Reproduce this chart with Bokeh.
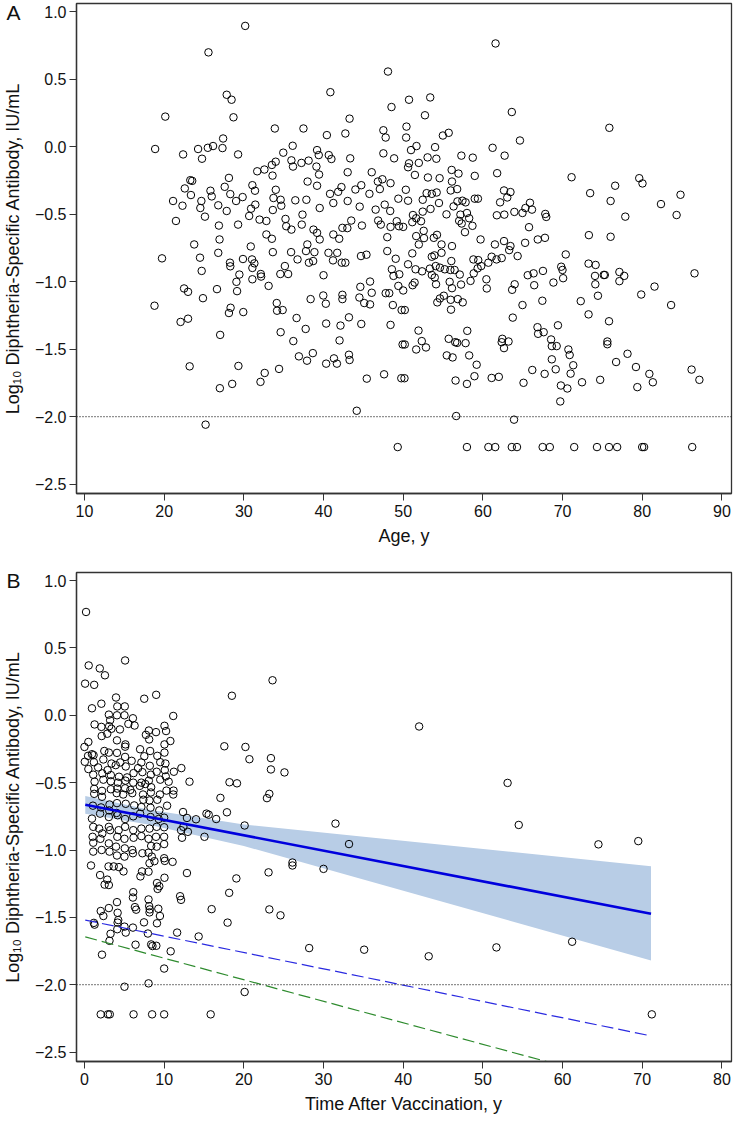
from bokeh.plotting import figure
from bokeh.models import Range1d, FixedTicker, Span, ColumnDataSource, LinearAxis
from bokeh.layouts import column
from bokeh.embed import file_html
from bokeh.resources import INLINE

# ---------------- Panel A: age vs log10 titer ----------------
age_A = [30.17,25.56,48.09,40.86,48.53,27.85,28.46,20.14,28.7,43.27,33.89,37.48,47.51,47.8,40.42,42.74,27.4,18.87,24.26,25.48,
 26.14,27.32,22.38,24.75,29.28,36.13,34.95,39.19,39.4,40.66,40.99,43.35,47.51,48.86,35.97,37.23,36.17,38.13,39.11,31.68,
 32.58,33.52,34.0,33.6,39.44,43.03,46.05,47.39,48.41,46.82,28.13,23.28,23.52,22.59,23.36,21.12,22.3,21.48,24.67,24.54,
 25.12,25.81,25.97,26.79,27.85,27.6,28.3,29.03,29.28,26.87,26.95,23.77,29.85,30.67,30.91,31.07,31.4,31.44,30.87,31.97,
 32.83,32.83,33.52,33.64,34.01,33.72,34.62,34.7,35.23,35.32,35.97,36.46,37.36,37.27,37.85,38.0,39.19,39.52,38.74,39.19,
 39.52,37.97,40.82,41.23,41.84,42.25,43.03,44.0,44.74,44.54,43.48,44.82,42.37,42.99,41.23,41.97,45.76,46.54,47.07,47.68,
 48.37,46.86,47.19,48.41,49.19,49.47,48.0,49.39,
 61.59,50.73,53.39,52.73,63.63,50.41,50.37,75.87,54.98,55.71,64.65,51.67,50.98,54.0,61.22,57.3,58.73,62.73,53.06,54.16,
 50.73,51.96,50.61,51.47,53.1,54.57,56.08,56.94,56.12,55.96,56.77,58.98,61.79,71.13,79.62,80.03,76.6,73.46,76.03,84.8,
 82.35,84.31,77.87,73.3,76.03,50.33,50.61,52.45,52.94,53.59,54.2,54.49,53.43,52.45,51.22,51.63,52.24,51.14,50.0,52.57,
 51.63,52.61,51.96,53.84,54.24,54.81,55.43,56.32,56.81,57.43,57.83,58.0,57.18,57.02,57.34,58.28,58.69,57.75,58.98,59.38,
 62.16,62.65,63.06,63.46,61.75,62.69,63.95,64.97,65.34,65.91,66.16,65.79,67.83,67.95,59.71,61.51,62.65,63.46,65.3,66.89,
 67.79,56.12,
 19.73,24.5,24.71,26.79,18.79,22.5,23.0,24.87,26.63,22.06,23.0,27.03,23.2,29.32,26.99,28.54,32.09,32.62,34.42,25.2,
 28.26,28.3,29.07,29.15,29.44,29.89,29.93,28.34,28.13,31.03,31.32,31.07,31.07,32.13,32.17,33.11,33.64,34.13,34.17,34.87,
 34.62,34.58,35.56,35.15,35.93,36.74,36.62,36.21,37.76,36.91,37.93,38.66,37.8,38.86,38.17,38.7,38.38,40.0,39.97,40.29,
 40.33,40.62,41.19,41.72,42.29,42.74,42.37,42.37,43.19,42.13,42.01,43.19,43.27,41.31,40.33,41.68,44.7,45.39,44.62,44.5,
 45.84,46.05,45.11,45.84,44.74,44.17,45.43,47.6,48.0,49.06,48.58,48.78,49.51,49.39,47.8,48.25,48.7,49.8,48.41,49.92,
 49.76,49.31,
 51.14,50.61,51.55,52.37,53.35,53.59,53.92,54.81,54.08,54.61,55.22,55.92,56.45,56.04,57.1,53.59,53.96,54.12,51.43,51.18,
 50.0,50.2,55.83,56.12,57.26,55.1,54.61,54.28,55.96,56.85,57.47,56.0,58.45,58.85,59.34,58.81,59.42,59.79,60.69,61.1,
 61.71,62.36,60.44,60.49,64.36,63.3,70.4,63.99,63.67,65.63,66.36,66.44,67.54,68.85,69.83,69.99,70.07,64.97,63.75,67.46,
 73.26,74.15,74.07,75.17,75.3,74.11,74.44,77.13,77.74,77.13,79.87,81.54,86.56,83.62,72.28,73.26,75.83,51.92,52.33,51.63,
 52.86,50.2,55.71,56.53,56.77,57.83,58.04,55.47,56.2,58.28,59.22,56.57,58.0,58.94,50.16,62.44,62.36,63.22,62.65,61.1,
 62.0,66.85,66.93,67.63,69.42,68.56,68.65,69.26,70.73,70.89,71.34,68.65,69.14,71.01,67.75,66.2,65.1,69.79,70.6,69.71,
 72.44,74.72,75.62,75.62,76.72,78.15,79.21,79.38,80.89,81.33,86.19,87.17,56.65,63.91,
 58.0,60.69,61.55,63.63,64.28,67.5,68.4,71.46,74.32,75.83,76.85,79.99,80.23,86.27]
titer_A = [0.894,0.698,0.556,0.403,0.293,0.384,0.347,0.222,0.217,0.207,0.134,0.134,0.121,0.067,0.085,0.097,0.06,-0.018,-0.018,-0.009,
 0.004,-0.011,-0.058,-0.09,-0.058,0.006,-0.045,-0.026,-0.063,-0.063,-0.092,-0.087,-0.05,-0.087,-0.102,-0.121,-0.148,-0.104,-0.148,-0.183,
 -0.17,-0.136,-0.112,-0.215,-0.207,-0.19,-0.19,-0.242,-0.271,-0.259,-0.232,-0.249,-0.254,-0.31,-0.359,-0.403,-0.438,-0.551,-0.403,-0.455,
 -0.519,-0.327,-0.369,-0.435,-0.477,-0.298,-0.352,-0.403,-0.578,-0.585,-0.688,-0.725,-0.374,-0.514,-0.46,-0.286,-0.327,-0.43,-0.74,-0.541,
 -0.551,-0.651,-0.683,-0.47,-0.32,-0.381,-0.394,-0.438,-0.536,-0.59,-0.615,-0.398,-0.504,-0.578,-0.394,-0.259,-0.29,-0.455,-0.615,-0.639,
 -0.688,-0.725,-0.35,-0.418,-0.335,-0.3,-0.403,-0.318,-0.286,-0.445,-0.548,-0.585,-0.602,-0.604,-0.651,-0.683,-0.35,-0.467,-0.315,-0.43,
 -0.477,-0.548,-0.578,-0.595,-0.553,-0.59,-0.671,-0.386,
 0.764,0.347,0.364,0.232,0.256,0.148,0.067,0.139,0.082,0.102,0.045,0.004,-0.026,-0.004,-0.009,-0.067,-0.082,-0.067,-0.08,-0.09,
 -0.124,-0.121,-0.153,-0.21,-0.229,-0.234,-0.173,-0.2,-0.259,-0.325,-0.315,-0.217,-0.197,-0.227,-0.234,-0.273,-0.29,-0.345,-0.403,-0.357,
 -0.426,-0.507,-0.519,-0.656,-0.668,-0.32,-0.401,-0.394,-0.345,-0.35,-0.34,-0.418,-0.462,-0.482,-0.507,-0.531,-0.553,-0.56,-0.595,-0.624,
 -0.663,-0.678,-0.725,-0.676,-0.654,-0.725,-0.502,-0.443,-0.406,-0.401,-0.413,-0.492,-0.504,-0.55,-0.57,-0.531,-0.587,-0.634,-0.386,-0.386,
 -0.413,-0.325,-0.377,-0.337,-0.509,-0.504,-0.484,-0.492,-0.455,-0.416,-0.467,-0.597,-0.499,-0.521,-0.688,-0.725,-0.7,-0.737,-0.713,-0.688,
 -0.676,-0.737,
 -0.828,-0.823,-0.921,-0.787,-1.179,-1.051,-1.076,-1.123,-1.056,-1.299,-1.275,-1.395,-1.628,-1.625,-1.79,-1.758,-1.743,-1.677,-1.647,-2.06,
 -0.86,-0.887,-1.002,-1.071,-0.948,-0.833,-1.226,-1.194,-1.233,-0.836,-0.865,-0.899,-0.983,-0.944,-0.963,-1.032,-0.782,-1.159,-1.216,-1.211,
 -1.375,-0.944,-0.944,-0.885,-0.782,-0.836,-1.27,-1.441,-1.351,-1.554,-1.586,-1.53,-0.774,-0.782,-0.86,-0.848,-1.13,-0.953,-1.103,-1.164,
 -1.311,-0.787,-0.843,-0.787,-0.86,-0.86,-1.098,-1.13,-1.265,-1.326,-1.436,-1.542,-1.581,-1.569,-1.608,-1.608,-0.811,-0.801,-1.039,-1.118,
 -1.0,-1.083,-1.159,-1.169,-1.314,-1.957,-1.719,-1.687,-0.774,-0.831,-0.909,-0.958,-0.946,-1.032,-1.086,-1.086,-1.174,-1.211,-1.321,-1.466,
 -1.716,-2.226,
 -0.791,-0.872,-0.909,-0.924,-0.904,-0.816,-0.806,-0.787,-0.885,-0.897,-0.909,-0.914,-0.914,-0.848,-0.948,-0.951,-0.97,-1.02,-1.007,-1.027,
 -1.066,-1.211,-1.002,-1.049,-1.022,-1.105,-1.125,-1.154,-1.135,-1.13,-1.154,-1.208,-0.995,-0.939,-0.902,-0.836,-0.841,-0.885,-0.86,-0.816,
 -0.836,-0.826,-0.983,-1.051,-0.811,-0.767,-0.799,-1.02,-1.061,-0.953,-0.939,-1.027,-0.921,-1.007,-0.89,-0.914,-0.975,-1.174,-1.267,-1.142,
 -0.867,-0.877,-0.958,-0.951,-0.951,-1.02,-1.105,-0.929,-0.958,-0.997,-1.096,-1.037,-0.939,-1.174,-1.145,-1.243,-1.294,-1.363,-1.441,-1.503,
 -1.488,-1.466,-1.424,-1.449,-1.454,-1.456,-1.365,-1.547,-1.562,-1.547,-1.616,-1.733,-1.758,-1.701,-1.716,-1.424,-1.449,-1.444,-1.493,-1.714,
 -1.706,-1.338,-1.387,-1.375,-1.324,-1.429,-1.478,-1.478,-1.503,-1.544,-1.62,-1.576,-1.65,-1.682,-1.684,-1.655,-1.75,-1.77,-1.792,-1.888,
 -1.746,-1.728,-1.444,-1.464,-1.596,-1.535,-1.633,-1.782,-1.684,-1.746,-1.652,-1.728,-1.996,-2.023,
 -2.226,-2.226,-2.226,-2.226,-2.226,-2.226,-2.226,-2.226,-2.226,-2.226,-2.226,-2.226,-2.226,-2.226]

# ---------------- Panel B: time after vaccination ----------------
years_B = [0.2,0.53,5.1,1.92,2.57,0.08,1.22,18.5,3.96,7.5,9.0,0.94,2.12,4.12,5.06,11.14,3.06,4.08,5.02,6.08,
 3.22,1.27,2.12,3.1,5.51,6.29,10.04,3.39,4.45,10.24,8.08,8.98,2.86,2.16,7.71,0.49,4.08,5.14,10.78,8.12,
 10.04,17.55,5.1,0.0,2.49,0.94,3.06,4.08,6.98,8.24,10.04,0.45,1.14,5.1,7.51,9.14,0.04,1.18,2.37,3.39,
 4.49,5.92,7.14,8.2,9.51,10.16,0.49,1.71,2.9,3.92,5.18,6.73,9.06,10.08,11.22,12.16,1.1,2.24,3.31,4.33,
 5.35,6.16,7.27,8.33,1.27,2.37,3.31,4.2,5.14,6.12,7.14,8.08,9.51,10.2,10.57,13.18,18.2,19.14,1.22,2.2,
 3.31,4.12,5.1,5.76,6.94,7.63,8.37,9.47,10.29,11.18,1.22,2.2,4.04,4.86,6.0,7.35,8.33,11.14,17.06,1.06,
 2.08,3.14,4.08,5.18,6.24,7.39,8.16,9.14,10.37,3.1,4.16,7.14,8.29,9.39,12.37,15.31,15.59,17.88,0.94,1.96,
 3.06,4.04,5.1,6.12,6.98,8.29,9.31,10.0,12.86,14.0,16.53,12.41,1.1,1.84,3.06,4.29,5.1,6.12,7.14,8.16,
 9.06,10.0,12.12,12.98,2.24,3.22,15.06,1.02,1.1,2.0,3.06,4.12,5.02,6.16,7.14,8.04,8.98,10.0,12.24,1.1,
 2.16,3.14,3.96,5.06,6.0,8.04,9.06,10.0,4.08,5.02,6.08,7.27,8.37,8.45,10.0,10.08,8.78,11.06,0.82,3.02,
 3.67,4.33,4.9,7.22,8.16,8.04,12.86,1.96,2.86,3.06,2.53,7.02,9.1,9.39,10.04,19.06,9.18,6.12,6.08,8.04,
 12.0,12.12,18.16,4.08,6.33,6.49,8.12,8.2,8.16,9.27,3.06,2.04,4.16,15.96,9.47,2.37,1.18,1.27,4.16,4.24,
 5.18,5.02,6.08,7.47,7.96,9.1,4.12,3.27,17.96,11.63,14.33,3.14,6.41,8.37,8.53,9.02,10.82,2.2,10.0,5.02,
 8.04,2.04,2.94,3.18,6.16,8.49,10.0,15.84,
 23.6,42.0,20.2,20.7,23.4,23.4,25.1,53.1,23.2,22.9,20.1,31.5,54.5,33.2,64.5,69.5,26.1,26.1,23.1,30.0,
 23.2,24.6,28.2,35.1,43.2,51.7,61.2,20.1,71.2]
titer_B = [0.767,0.37,0.407,0.348,0.297,0.235,0.226,0.145,0.132,0.123,0.152,0.052,0.086,0.066,0.066,-0.005,0.005,0.0,0.0,-0.022,
 -0.037,-0.068,-0.086,-0.081,-0.064,-0.076,-0.078,-0.1,-0.105,-0.117,-0.113,-0.125,-0.137,-0.154,-0.145,-0.198,-0.186,-0.216,-0.191,-0.179,
 -0.216,-0.23,-0.233,-0.235,-0.265,-0.289,-0.277,-0.279,-0.252,-0.265,-0.277,-0.301,-0.296,-0.309,-0.304,-0.301,-0.345,-0.348,-0.328,-0.358,
 -0.35,-0.338,-0.35,-0.375,-0.348,-0.358,-0.399,-0.387,-0.407,-0.37,-0.38,-0.392,-0.419,-0.407,-0.419,-0.392,-0.441,-0.431,-0.444,-0.456,
 -0.461,-0.429,-0.422,-0.441,-0.493,-0.478,-0.49,-0.5,-0.485,-0.5,-0.5,-0.485,-0.478,-0.454,-0.493,-0.493,-0.497,-0.505,-0.546,-0.561,
 -0.549,-0.544,-0.542,-0.554,-0.524,-0.51,-0.534,-0.588,-0.559,-0.559,-0.583,-0.605,-0.578,-0.588,-0.578,-0.588,-0.573,-0.588,-0.613,-0.671,
 -0.684,-0.662,-0.652,-0.657,-0.669,-0.627,-0.632,-0.627,-0.671,-0.706,-0.742,-0.681,-0.686,-0.706,-0.718,-0.73,-0.738,-0.72,-0.767,-0.73,
 -0.755,-0.725,-0.77,-0.75,-0.73,-0.755,-0.77,-0.76,-0.762,-0.772,-0.77,-0.828,-0.828,-0.841,-0.828,-0.853,-0.828,-0.853,-0.841,-0.841,
 -0.828,-0.831,-0.853,-0.865,-0.877,-0.853,-0.902,-0.902,-0.946,-0.917,-0.951,-0.902,-0.917,-0.909,-0.897,-0.917,-0.902,-0.902,-0.909,-1.012,
 -1.0,-1.012,-0.975,-0.988,-1.0,-1.02,-0.975,-0.956,-1.041,-1.049,-1.024,-1.024,-0.97,-1.049,-1.061,-1.081,-1.083,-1.088,-1.115,-1.122,
 -1.122,-1.127,-1.159,-1.159,-1.098,-1.161,-1.171,-1.186,-1.22,-1.26,-1.257,-1.196,-1.245,-1.269,-1.206,-1.211,-1.289,-1.313,-1.353,-1.367,
 -1.343,-1.37,-1.318,-1.387,-1.424,-1.443,-1.417,-1.441,-1.463,-1.436,-1.431,-1.453,-1.466,-1.439,-1.49,-1.49,-1.541,-1.554,-1.539,-1.52,
 -1.613,-1.569,-1.576,-1.537,-1.62,-1.544,-1.588,-1.622,-1.539,-1.613,-1.642,-1.674,-1.703,-1.701,-1.713,-1.711,-1.752,-1.777,-1.88,-2.015,
 -1.99,-2.22,-2.22,-2.22,-2.22,-2.22,-2.22,-2.22,
 0.26,-0.083,-0.235,-0.326,-0.318,-0.402,-0.424,-0.502,-0.583,-0.615,-0.818,-0.804,-0.814,-0.956,-0.958,-0.934,-1.093,-1.115,-1.166,-1.14,
 -1.441,-1.485,-1.728,-1.74,-1.789,-1.723,-1.681,-2.054,-2.22]

# regression fit with confidence band, and two reference lines (panel B)
fit_x = [0.1, 71.1]
fit_y = [-0.664, -1.473]
band_x = [0.1, 8.0, 20.0, 71.1]
band_upper = [-0.60, -0.70, -0.81, -1.12]
band_lower = [-0.73, -0.81, -0.97, -1.82]
ref_x = [0.1, 71.1]
blue_dash_y = [-1.52, -2.38]
green_dash_y = [-1.645, -2.78]

threshold = -2.0
yticks = [-2.5, -2.0, -1.5, -1.0, -0.5, 0.0, 0.5, 1.0]
ytick_labels = ["\u22122.5", "\u22122.0", "\u22121.5", "\u22121.0", "\u22120.5", "0.0", "0.5", "1.0"]
xticks_A = [10, 20, 30, 40, 50, 60, 70, 80, 90]
xticks_B = [0, 10, 20, 30, 40, 50, 60, 70, 80]
ylabel = "Log\u2081\u2080 Diphtheria-Specific Antibody, IU/mL"

FONT = "Liberation Sans"
W = 733
LEFT = 76
RIGHT = 2


def make_fig(xr, xticks, xlabel, panel_letter, height, top, bottom):
    p = figure(width=W, height=height, x_range=Range1d(*xr), y_range=Range1d(-2.57, 1.06),
               output_backend="svg", toolbar_location=None,
               min_border_left=LEFT, min_border_right=RIGHT, min_border_top=top,
               min_border_bottom=bottom)
    p.grid.visible = False
    p.outline_line_color = "#333333"
    p.outline_line_width = 1.3
    p.background_fill_color = "white"
    p.border_fill_color = "white"
    for ax in (p.xaxis[0], p.yaxis[0]):
        ax.axis_line_color = "#333333"
        ax.axis_line_width = 1.3
        ax.major_tick_line_color = "#333333"
        ax.major_tick_out = 7
        ax.major_tick_in = 0
        ax.minor_tick_line_color = None
        ax.major_label_text_font = FONT
        ax.major_label_text_font_size = "16px"
        ax.major_label_text_color = "#111111"
        ax.axis_label_text_font = FONT
        ax.axis_label_text_font_size = "18px"
        ax.axis_label_text_font_style = "normal"
        ax.axis_label_text_color = "#111111"
    p.xaxis.ticker = FixedTicker(ticks=xticks)
    p.yaxis.ticker = FixedTicker(ticks=yticks)
    p.yaxis.major_label_overrides = {t: l for t, l in zip(yticks, ytick_labels)}
    p.xaxis.axis_label = xlabel
    p.xaxis.major_label_standoff = 4
    p.xaxis.axis_label_standoff = 6
    p.yaxis.major_label_standoff = 3

    # outer left axis: carries the panel letter (at the top tick) and the y title
    outer = LinearAxis(ticker=FixedTicker(ticks=[yticks[-1]]),
                       major_label_overrides={yticks[-1]: panel_letter},
                       axis_line_color=None, major_tick_line_color=None,
                       major_tick_out=0, major_tick_in=0, minor_tick_line_color=None,
                       major_label_text_font=FONT, major_label_text_font_size="21px",
                       major_label_text_color="#111111", major_label_standoff=11,
                       axis_label=ylabel, axis_label_text_font=FONT,
                       axis_label_text_font_size="18px", axis_label_text_font_style="normal",
                       axis_label_text_line_height=0.9,
                       axis_label_text_color="#111111", axis_label_standoff=-20)
    p.add_layout(outer, "left")

    p.add_layout(Span(location=threshold, dimension="width", line_color="#222222",
                      line_dash="1 2", line_width=1.3))
    return p


# Panel A
pA = make_fig((9.0, 91.2), xticks_A, "Age, y", "A", 553, 3, 60)
pA.scatter(age_A, titer_A, marker="circle", size=7.5, fill_color=None,
           line_color="black", line_width=1)

# Panel B
pB = make_fig((-1.0, 81.2), xticks_B, "Time After Vaccination, y", "B", 563, 19, 54)
src_band = ColumnDataSource(dict(x=band_x, lo=band_lower, hi=band_upper))
pB.varea(x="x", y1="lo", y2="hi", source=src_band, fill_color="#B8CDE6", fill_alpha=1.0)
pB.scatter(years_B, titer_B, marker="circle", size=7.5, fill_color=None,
           line_color="black", line_width=1)
pB.line(ref_x, blue_dash_y, line_color="#2a2ae0", line_width=1.2, line_dash="12 5")
pB.line(ref_x, green_dash_y, line_color="#2e8b2e", line_width=1.2, line_dash="12 5")
pB.line(fit_x, fit_y, line_color="#0000dd", line_width=2.6)

layout = column(pA, pB)
open("out.html", "w").write(file_html(layout, INLINE))
